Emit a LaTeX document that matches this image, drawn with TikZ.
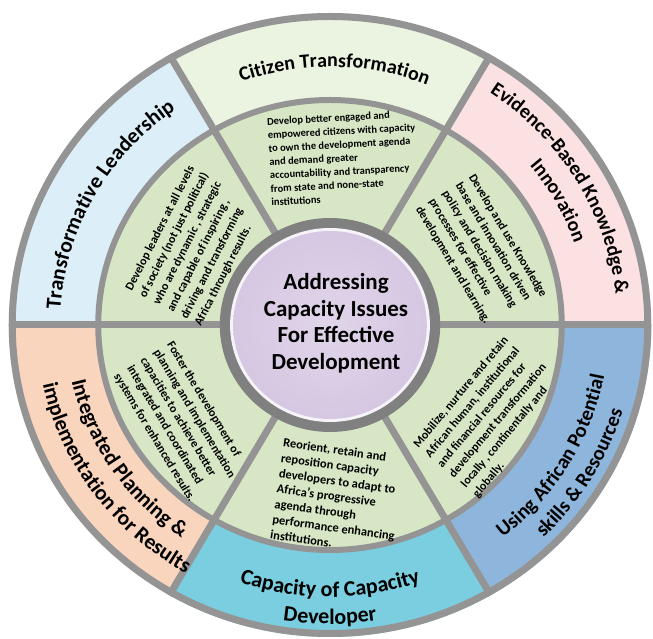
\documentclass[tikz,border=0pt]{standalone}
\usepackage{fontspec}
\setmainfont{Carlito}
\usetikzlibrary{decorations.text}

\definecolor{lineGray}{RGB}{148,148,148}
\definecolor{rimGray}{RGB}{128,128,128}
\definecolor{leaderBlue}{RGB}{220,238,247}
\definecolor{citizenGreen}{RGB}{235,243,225}
\definecolor{evidencePink}{RGB}{251,225,226}
\definecolor{potentialBlue}{RGB}{142,182,221}
\definecolor{capacityCyan}{RGB}{122,206,224}
\definecolor{planningPeach}{RGB}{250,213,190}
\definecolor{ringGreen}{RGB}{215,231,197}
\definecolor{hubPurple}{RGB}{214,199,226}

% text on an arc of the outer ring: size, radius, from, to, text
\newcommand{\arclabel}[5]{%
  \pgfmathsetmacro{\xrad}{1.03*#2}
  \path[decorate, decoration={text along path, text align=center,
    text={|\fontsize{#1}{#1}\selectfont\bfseries|#5}}]
    ({\xrad*cos(#3)},{#2*sin(#3)}) arc[start angle=#3, end angle=#4, x radius=\xrad, y radius=#2];}

\begin{document}
\begin{tikzpicture}[x=1pt,y=1pt]
    \tikzstyle{ringline}=[draw=lineGray, line width=7pt]
    \tikzstyle{midtext}=[font=\fontsize{12}{15.5}\selectfont\bfseries, align=left, inner sep=0pt]
    \tikzstyle{hubtext}=[font=\fontsize{23}{26.5}\selectfont\bfseries, align=center, inner sep=0pt]
    \useasboundingbox (-330,-314) rectangle (323,325);
    \begin{scope}[xscale=1.03]
      \fill[evidencePink] (0,0) -- (0:312) arc[start angle=0, end angle=60, radius=312] -- cycle;
      \fill[citizenGreen] (0,0) -- (60:312) arc[start angle=60, end angle=120, radius=312] -- cycle;
      \fill[leaderBlue] (0,0) -- (120:312) arc[start angle=120, end angle=180, radius=312] -- cycle;
      \fill[planningPeach] (0,0) -- (180:312) arc[start angle=180, end angle=240, radius=312] -- cycle;
      \fill[capacityCyan] (0,0) -- (240:312) arc[start angle=240, end angle=300, radius=312] -- cycle;
      \fill[potentialBlue] (0,0) -- (300:312) arc[start angle=300, end angle=360, radius=312] -- cycle;
      \fill[ringGreen] (0,0) circle[radius=225];
      \draw[ringline] (0,0) circle[radius=308.5];
      \draw[ringline, line width=6pt] (0,0) circle[radius=225];
      \foreach \a in {0,60,...,300}
        \draw[ringline] (\a:100) -- (\a:312);
      % hub
      \fill[rimGray] (0,0) circle[radius=107];
      \fill[white!80!hubPurple] (0,0) circle[radius=97];
      \shade[inner color=hubPurple!75!white, outer color=hubPurple] (0,0) circle[radius=94];
    \end{scope}
    \node[hubtext] (hub) at (6,2) {Addressing\\Capacity Issues\\For Effective\\Development};

    % outer ring labels
    \arclabel{20}{258}{135}{43}{Citizen Transformation}
    \arclabel{20}{279}{76}{-14}{Evidence-Based Knowledge {\&}}
    \arclabel{20}{251}{64}{-6}{Innovation}
    \arclabel{21.5}{262}{196}{106}{Transformative Leadership}
    \arclabel{20.5}{271}{-76}{14}{Using African Potential}
    \arclabel{20.5}{297}{-71}{9}{skills {\&} Resources}
    \arclabel{21.5}{257}{169}{259}{Integrated Planning {\&}}
    \arclabel{21.5}{285}{171}{261}{implementation for Results}
    \arclabel{22}{272}{230}{310}{Capacity of Capacity}
    \arclabel{22}{299}{240}{300}{Developer}

    % middle ring notes
    \node[midtext, font=\fontsize{10.5}{13.5}\selectfont\bfseries, rotate=3] (citizenNote) at (13,167) {Develop better engaged and\\empowered citizens with capacity\\to own the development agenda\\and demand greater\\accountability and transparency\\from state and none-state\\institutions};
    \node[midtext, rotate=63] (leaderNote) at (-135,79) {Develop leaders at all levels\\of society  (not just political)\\who are dynamic , strategic\\and capable of inspiring ,\\driving and transforming\\Africa through results.};
    \node[midtext, rotate=-59] (evidenceNote) at (151,73) {Develop and use Knowledge\\base and innovation driven\\policy and decision making\\processes for effective\\development and learning.};
    \node[midtext, rotate=50] (potentialNote) at (162,-91) {Mobilize, nurture and retain\\African human, institutional\\and financial resources for\\development transformation\\locally , continentally and\\globally.};
    \node[midtext, font=\fontsize{12.5}{15.5}\selectfont\bfseries, rotate=-8] (capacityNote) at (8,-172) {Reorient, retain and\\reposition capacity\\developers to adapt to\\Africa’s progressive\\agenda through\\performance enhancing\\institutions.};
    \node[midtext, rotate=-59] (planningNote) at (-149,-97) {Foster the development of\\planning and implementation\\capacities to achieve better\\integrated and coordinated\\systems for enhanced results.};
\end{tikzpicture}
\end{document}
